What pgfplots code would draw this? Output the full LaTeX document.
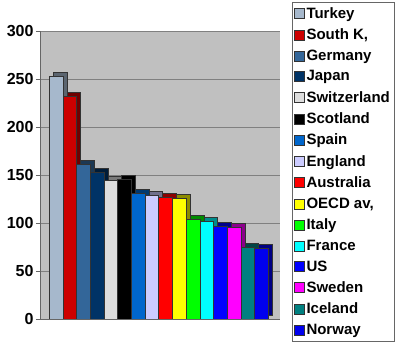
\documentclass[border=0pt]{standalone}
\usepackage{fontspec}
\setmainfont{Liberation Sans}
\usepackage{pgfplots}
\pgfplotsset{compat=1.18}
\definecolor{cTurkey}{HTML}{A6B8CC}
\definecolor{cSouthK}{HTML}{CC0000}
\definecolor{cGermany}{HTML}{336699}
\definecolor{cJapan}{HTML}{003366}
\definecolor{cSwitz}{HTML}{DDDDDD}
\definecolor{cScot}{HTML}{000000}
\definecolor{cSpain}{HTML}{0066CC}
\definecolor{cEngland}{HTML}{CCCCFF}
\definecolor{cAus}{HTML}{FF0000}
\definecolor{cOECD}{HTML}{FFFF00}
\definecolor{cItaly}{HTML}{00FF00}
\definecolor{cFrance}{HTML}{00FFFF}
\definecolor{cUS}{HTML}{0000FF}
\definecolor{cSweden}{HTML}{FF00FF}
\definecolor{cIceland}{HTML}{008080}
\definecolor{cNorway}{HTML}{0000EE}
\definecolor{wall}{HTML}{C0C0C0}
\newcommand{\cbar}[3]{%
  \addplot[forget plot, fill=#3!55!black, draw=black!80, line width=0.3pt, xshift=4pt, yshift=4pt] coordinates {(#1,#2)};
  \addplot[fill=#3, draw=black!80, line width=0.3pt] coordinates {(#1,#2)};
}
\begin{document}
\begin{tikzpicture}
\useasboundingbox (-40pt,-32pt) rectangle (360pt,319pt);
\begin{axis}[
  scale only axis,
  width=240pt, height=288pt,
  ybar, bar width=13.7pt, bar shift=0pt,
  xmin=-1.157, xmax=16.36,
  ymin=0, ymax=300,
  ytick={0,50,...,300},
  xtick=\empty,
  axis background/.style={fill=wall},
  ymajorgrids, major grid style={black!50, line width=0.8pt},
  axis x line*=bottom, axis y line*=left,
  axis line style={black!60},
  tick align=outside, major tick length=4pt,
  ytick style={black!60},
  /pgf/number format/assume math mode=true,
  yticklabel style={font=\fontsize{16}{18}\selectfont\bfseries, xshift=1pt},
  legend style={at={(1.05,1.1007)}, anchor=north west, draw=black!60, fill=white,
    font=\fontsize{15}{17}\selectfont\bfseries, row sep=4.9pt, inner xsep=2pt, inner ysep=3pt},
  legend cell align=left,
  legend image code/.code={\draw[#1,draw=black!80] (0pt,-5pt) rectangle (10pt,5pt);},
]
\cbar{0}{253}{cTurkey}
\cbar{1}{232}{cSouthK}
\cbar{2}{161}{cGermany}
\cbar{3}{153}{cJapan}
\cbar{4}{145}{cSwitz}
\cbar{5}{146}{cScot}
\cbar{6}{131}{cSpain}
\cbar{7}{129}{cEngland}
\cbar{8}{127}{cAus}
\cbar{9}{126}{cOECD}
\cbar{10}{104}{cItaly}
\cbar{11}{102}{cFrance}
\cbar{12}{97}{cUS}
\cbar{13}{96}{cSweden}
\cbar{14}{75}{cIceland}
\cbar{15}{74}{cNorway}
\legend{Turkey,{South K,},Germany,Japan,Switzerland,Scotland,Spain,England,Australia,{OECD av,},Italy,France,US,Sweden,Iceland,Norway}
\end{axis}
\end{tikzpicture}
\end{document}
